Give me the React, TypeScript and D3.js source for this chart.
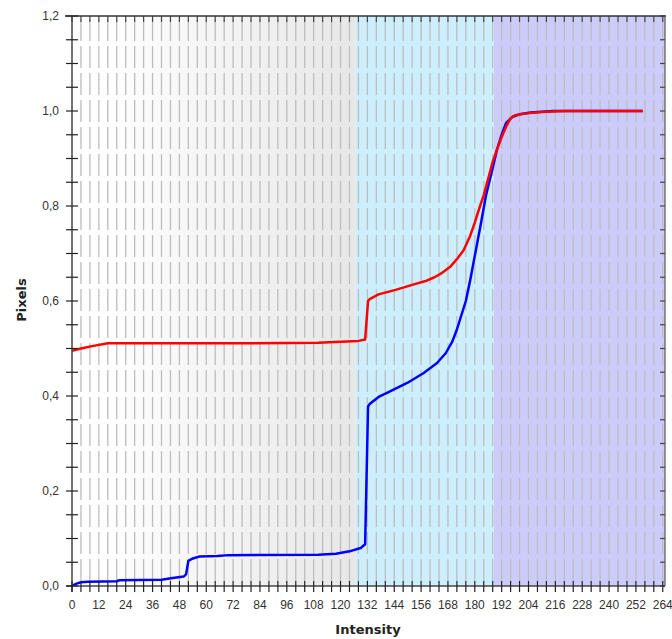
import React from "react";
import * as d3 from "d3";

const redIntensity = [0, 4, 9, 16, 40, 80, 110, 120, 128, 131, 132.3, 133, 137, 145, 152, 158, 162, 165, 169, 172, 175, 178, 180, 182, 184, 186, 188, 190, 192, 194, 196, 198, 203, 210, 220, 255];
const redValues = [0.495, 0.5, 0.505, 0.511, 0.511, 0.511, 0.512, 0.514, 0.516, 0.519, 0.6, 0.604, 0.614, 0.624, 0.634, 0.642, 0.65, 0.658, 0.672, 0.688, 0.707, 0.738, 0.765, 0.795, 0.823, 0.858, 0.893, 0.92, 0.945, 0.967, 0.985, 0.991, 0.995, 0.998, 1.0, 1.0];

const blueIntensity = [0, 2, 4, 7, 20, 21, 40, 45, 50, 51, 52, 54, 57, 65, 70, 110, 118, 124, 129, 131, 132.3, 133, 137, 141, 150, 157, 163, 167, 170, 172, 174, 176, 178, 180, 183, 185, 188, 190, 192, 194, 197, 200, 205, 215, 255];
const blueValues = [0.0, 0.005, 0.008, 0.009, 0.01, 0.012, 0.013, 0.017, 0.02, 0.025, 0.053, 0.058, 0.062, 0.063, 0.065, 0.066, 0.068, 0.073, 0.08, 0.088, 0.378, 0.383, 0.398, 0.407, 0.428, 0.448, 0.469, 0.49, 0.515, 0.54, 0.57, 0.6, 0.645, 0.695, 0.77, 0.822, 0.88, 0.92, 0.95, 0.975, 0.988, 0.993, 0.997, 1.0, 1.0];

const regionStarts = [0, 126.8, 188.6];
const regionEnds = [126.8, 188.6, 265];
const regionFills = ["url(#grayGrad)", "#cdeefd", "#ccccfb"];

const xTickLabels = d3.range(0, 265, 12);
const xMinorTicks = d3.range(0, 265, 4);
const yTickLabels = [0, 0.2, 0.4, 0.6, 0.8, 1.0, 1.2];
const yMinorTicks = d3.range(0, 1.2001, 0.05);

export default function App() {
  const left = 72, right = 665, top = 16, bottom = 586;
  const x = d3.scaleLinear().domain([0, 265]).range([left, right]);
  const y = d3.scaleLinear().domain([0, 1.2]).range([bottom, top]);
  const line = d3.line<[number, number]>().x(d => x(d[0])).y(d => y(d[1]));
  const red = redIntensity.map((v, i) => [v, redValues[i]] as [number, number]);
  const blue = blueIntensity.map((v, i) => [v, blueValues[i]] as [number, number]);
  const fmt = (v: number) => v.toFixed(1).replace(".", ",");
  const axisColor = "#444";
  const tickFont = "'Liberation Sans', Arial, sans-serif";
  const titleFont = "'DejaVu Sans', Verdana, sans-serif";

  return (
    <svg width={672} height={639} style={{ position: "absolute", left: 0, top: 0 }}>
      <defs>
        <linearGradient id="grayGrad" x1="0" x2="1" y1="0" y2="0">
          <stop offset="0" stopColor="#ffffff" />
          <stop offset="0.15" stopColor="#fefefe" />
          <stop offset="1" stopColor="#e7e7e7" />
        </linearGradient>
        <clipPath id="plotClip">
          <rect x={left} y={top} width={right - left} height={bottom - top} />
        </clipPath>
      </defs>
      <rect x={0} y={0} width={672} height={639} fill="#fff" />
      {regionStarts.map((s, i) => (
        <rect key={i} x={x(s)} y={top} width={x(regionEnds[i]) - x(s)} height={bottom - top} fill={regionFills[i]} />
      ))}
      {xMinorTicks.filter(t => t > 0).map(t => (
        <line key={"g" + t} x1={x(t)} x2={x(t)} y1={top + 3} y2={bottom} stroke="#bdbdbd" strokeWidth={1.3} strokeDasharray="22,5" />
      ))}
      {xMinorTicks.map(t => (
        <line key={"tt" + t} x1={x(t)} x2={x(t)} y1={top} y2={top + 6} stroke={axisColor} strokeWidth={1.2} />
      ))}
      {yMinorTicks.map(t => (
        <line key={"rt" + t} x1={right - 5} x2={right} y1={y(t)} y2={y(t)} stroke={axisColor} strokeWidth={1.2} />
      ))}
      <line x1={left - 7} x2={right + 1} y1={top} y2={top} stroke="#333" strokeWidth={1.5} />
      <line x1={right} x2={right} y1={top} y2={bottom} stroke="#555" strokeWidth={1.2} />
      <g clipPath="url(#plotClip)">
        <path d={line(blue) || ""} fill="none" stroke="#0000ff" strokeWidth={2.5} strokeLinejoin="round" />
        <path d={line(red) || ""} fill="none" stroke="#ff0000" strokeWidth={2.5} strokeLinejoin="round" />
      </g>
      <line x1={left} x2={left} y1={top} y2={bottom + 6} stroke={axisColor} strokeWidth={1.5} />
      <line x1={left - 6} x2={right} y1={bottom} y2={bottom} stroke={axisColor} strokeWidth={1.5} />
      {xMinorTicks.map(t => (
        <line key={"bt" + t} x1={x(t)} x2={x(t)} y1={bottom - 5} y2={bottom + 6} stroke="#222" strokeWidth={1.2} />
      ))}
      {yMinorTicks.map(t => (
        <line key={"lt" + t} x1={left - 6} x2={left + 6} y1={y(t)} y2={y(t)} stroke="#222" strokeWidth={1.2} />
      ))}
      {xTickLabels.map(t => (
        <text key={"xl" + t} x={x(t)} y={609} textAnchor="middle" fontFamily={tickFont} fontSize={12} fill="#333">{t}</text>
      ))}
      {yTickLabels.map(t => (
        <text key={"yl" + t} x={59} y={y(t) + 4} textAnchor="end" fontFamily={tickFont} fontSize={12} fill="#333">{fmt(t)}</text>
      ))}
      <text x={368} y={634} textAnchor="middle" fontFamily={titleFont} fontSize={13} fontWeight="bold" fill="#222">Intensity</text>
      <text transform={`translate(26,300) rotate(-90)`} textAnchor="middle" fontFamily={titleFont} fontSize={13} fontWeight="bold" fill="#222">Pixels</text>
    </svg>
  );
}
